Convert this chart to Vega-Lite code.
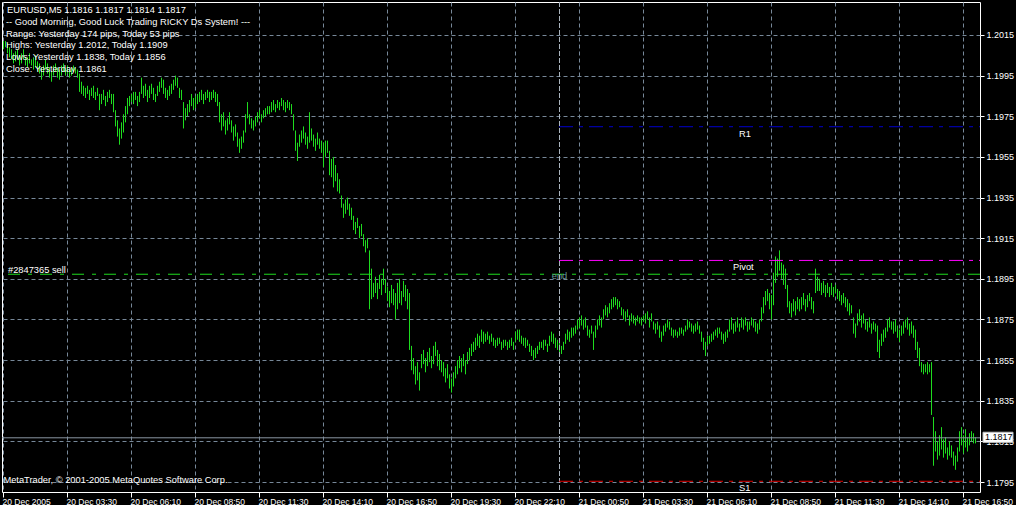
{
"$schema":"https://vega.github.io/schema/vega-lite/v6.json",
"width":978,"height":490,"autosize":"none",
"padding":{"left":2,"top":2,"right":36,"bottom":13},
"background":"black",
"config":{"view":{"stroke":"white","strokeWidth":1},"text":{"font":"Liberation Sans"}},
"datasets":{"bars":[
{"i":0,"l":1.2008,"h":1.2012},{"i":1,"l":1.2009,"h":1.2012},{"i":2,"l":1.2006,"h":1.2011},{"i":3,"l":1.2004,"h":1.2009},{"i":4,"l":1.2003,"h":1.2008},{"i":5,"l":1.2001,"h":1.2006},{"i":6,"l":1.2002,"h":1.2007},{"i":7,"l":1.2003,"h":1.2008},{"i":8,"l":1.2000,"h":1.2005},{"i":9,"l":1.2001,"h":1.2006},
{"i":10,"l":1.2003,"h":1.2008},{"i":11,"l":1.2000,"h":1.2004},{"i":12,"l":1.1999,"h":1.2004},{"i":13,"l":1.2001,"h":1.2006},{"i":14,"l":1.2000,"h":1.2003},{"i":15,"l":1.1998,"h":1.2004},{"i":16,"l":1.1999,"h":1.2005},{"i":17,"l":1.1997,"h":1.2002},{"i":18,"l":1.1996,"h":1.2001},{"i":19,"l":1.1993,"h":1.1999},
{"i":20,"l":1.1995,"h":1.2000},{"i":21,"l":1.1998,"h":1.2003},{"i":22,"l":1.1996,"h":1.2001},{"i":23,"l":1.1994,"h":1.1999},{"i":24,"l":1.1992,"h":1.1997},{"i":25,"l":1.1995,"h":1.2000},{"i":26,"l":1.1997,"h":1.2001},{"i":27,"l":1.1994,"h":1.1999},{"i":28,"l":1.1993,"h":1.1998},{"i":29,"l":1.1995,"h":1.2000},
{"i":30,"l":1.1997,"h":1.2001},{"i":31,"l":1.1995,"h":1.1999},{"i":32,"l":1.1996,"h":1.2000},{"i":33,"l":1.1994,"h":1.1998},{"i":34,"l":1.1995,"h":1.1999},{"i":35,"l":1.1997,"h":1.2000},{"i":36,"l":1.1996,"h":1.1999},{"i":37,"l":1.1994,"h":1.1998},{"i":38,"l":1.1987,"h":1.1996},{"i":39,"l":1.1986,"h":1.1992},
{"i":40,"l":1.1985,"h":1.1990},{"i":41,"l":1.1984,"h":1.1989},{"i":42,"l":1.1986,"h":1.1990},{"i":43,"l":1.1983,"h":1.1988},{"i":44,"l":1.1985,"h":1.1989},{"i":45,"l":1.1984,"h":1.1990},{"i":46,"l":1.1983,"h":1.1987},{"i":47,"l":1.1985,"h":1.1989},{"i":48,"l":1.1978,"h":1.1986},{"i":49,"l":1.1981,"h":1.1986},
{"i":50,"l":1.1983,"h":1.1988},{"i":51,"l":1.1980,"h":1.1985},{"i":52,"l":1.1982,"h":1.1987},{"i":53,"l":1.1984,"h":1.1988},{"i":54,"l":1.1981,"h":1.1986},{"i":55,"l":1.1977,"h":1.1986},{"i":56,"l":1.1970,"h":1.1978},{"i":57,"l":1.1965,"h":1.1973},{"i":58,"l":1.1961,"h":1.1969},{"i":59,"l":1.1964,"h":1.1972},
{"i":60,"l":1.1967,"h":1.1976},{"i":61,"l":1.1972,"h":1.1980},{"i":62,"l":1.1976,"h":1.1984},{"i":63,"l":1.1980,"h":1.1985},{"i":64,"l":1.1982,"h":1.1986},{"i":65,"l":1.1981,"h":1.1987},{"i":66,"l":1.1983,"h":1.1987},{"i":67,"l":1.1980,"h":1.1985},{"i":68,"l":1.1982,"h":1.1987},{"i":69,"l":1.1986,"h":1.1994},
{"i":70,"l":1.1984,"h":1.1990},{"i":71,"l":1.1985,"h":1.1991},{"i":72,"l":1.1982,"h":1.1988},{"i":73,"l":1.1984,"h":1.1990},{"i":74,"l":1.1986,"h":1.1991},{"i":75,"l":1.1983,"h":1.1989},{"i":76,"l":1.1982,"h":1.1986},{"i":77,"l":1.1985,"h":1.1990},{"i":78,"l":1.1987,"h":1.1992},{"i":79,"l":1.1989,"h":1.1994},
{"i":80,"l":1.1986,"h":1.1993},{"i":81,"l":1.1984,"h":1.1989},{"i":82,"l":1.1983,"h":1.1988},{"i":83,"l":1.1985,"h":1.1990},{"i":84,"l":1.1986,"h":1.1991},{"i":85,"l":1.1988,"h":1.1993},{"i":86,"l":1.1990,"h":1.1995},{"i":87,"l":1.1989,"h":1.1994},{"i":88,"l":1.1984,"h":1.1989},{"i":89,"l":1.1983,"h":1.1988},
{"i":90,"l":1.1969,"h":1.1982},{"i":91,"l":1.1973,"h":1.1979},{"i":92,"l":1.1975,"h":1.1981},{"i":93,"l":1.1977,"h":1.1983},{"i":94,"l":1.1980,"h":1.1986},{"i":95,"l":1.1978,"h":1.1984},{"i":96,"l":1.1979,"h":1.1985},{"i":97,"l":1.1981,"h":1.1986},{"i":98,"l":1.1982,"h":1.1987},{"i":99,"l":1.1983,"h":1.1988},
{"i":100,"l":1.1981,"h":1.1986},{"i":101,"l":1.1983,"h":1.1987},{"i":102,"l":1.1984,"h":1.1988},{"i":103,"l":1.1982,"h":1.1987},{"i":104,"l":1.1983,"h":1.1987},{"i":105,"l":1.1984,"h":1.1988},{"i":106,"l":1.1982,"h":1.1987},{"i":107,"l":1.1980,"h":1.1986},{"i":108,"l":1.1972,"h":1.1982},{"i":109,"l":1.1968,"h":1.1976},
{"i":110,"l":1.1970,"h":1.1977},{"i":111,"l":1.1966,"h":1.1973},{"i":112,"l":1.1968,"h":1.1974},{"i":113,"l":1.1971,"h":1.1977},{"i":114,"l":1.1967,"h":1.1973},{"i":115,"l":1.1963,"h":1.1970},{"i":116,"l":1.1965,"h":1.1971},{"i":117,"l":1.1960,"h":1.1967},{"i":118,"l":1.1957,"h":1.1964},{"i":119,"l":1.1959,"h":1.1965},
{"i":120,"l":1.1962,"h":1.1968},{"i":121,"l":1.1967,"h":1.1976},{"i":122,"l":1.1974,"h":1.1982},{"i":123,"l":1.1971,"h":1.1976},{"i":124,"l":1.1969,"h":1.1974},{"i":125,"l":1.1968,"h":1.1973},{"i":126,"l":1.1970,"h":1.1975},{"i":127,"l":1.1972,"h":1.1977},{"i":128,"l":1.1974,"h":1.1978},{"i":129,"l":1.1972,"h":1.1976},
{"i":130,"l":1.1974,"h":1.1978},{"i":131,"l":1.1975,"h":1.1979},{"i":132,"l":1.1976,"h":1.1980},{"i":133,"l":1.1976,"h":1.1980},{"i":134,"l":1.1977,"h":1.1982},{"i":135,"l":1.1978,"h":1.1983},{"i":136,"l":1.1977,"h":1.1981},{"i":137,"l":1.1979,"h":1.1983},{"i":138,"l":1.1978,"h":1.1982},{"i":139,"l":1.1980,"h":1.1984},
{"i":140,"l":1.1978,"h":1.1983},{"i":141,"l":1.1977,"h":1.1982},{"i":142,"l":1.1979,"h":1.1983},{"i":143,"l":1.1978,"h":1.1982},{"i":144,"l":1.1976,"h":1.1981},{"i":145,"l":1.1968,"h":1.1976},{"i":146,"l":1.1958,"h":1.1968},{"i":147,"l":1.1953,"h":1.1962},{"i":148,"l":1.1960,"h":1.1966},{"i":149,"l":1.1962,"h":1.1968},
{"i":150,"l":1.1964,"h":1.1970},{"i":151,"l":1.1961,"h":1.1967},{"i":152,"l":1.1959,"h":1.1965},{"i":153,"l":1.1962,"h":1.1977},{"i":154,"l":1.1963,"h":1.1969},{"i":155,"l":1.1960,"h":1.1966},{"i":156,"l":1.1958,"h":1.1964},{"i":157,"l":1.1961,"h":1.1967},{"i":158,"l":1.1959,"h":1.1964},{"i":159,"l":1.1957,"h":1.1963},
{"i":160,"l":1.1950,"h":1.1962},{"i":161,"l":1.1955,"h":1.1963},{"i":162,"l":1.1957,"h":1.1963},{"i":163,"l":1.1946,"h":1.1958},{"i":164,"l":1.1945,"h":1.1954},{"i":165,"l":1.1940,"h":1.1955},{"i":166,"l":1.1943,"h":1.1951},{"i":167,"l":1.1938,"h":1.1947},{"i":168,"l":1.1937,"h":1.1944},{"i":169,"l":1.1930,"h":1.1936},
{"i":170,"l":1.1925,"h":1.1932},{"i":171,"l":1.1927,"h":1.1934},{"i":172,"l":1.1929,"h":1.1935},{"i":173,"l":1.1926,"h":1.1932},{"i":174,"l":1.1924,"h":1.1930},{"i":175,"l":1.1919,"h":1.1926},{"i":176,"l":1.1917,"h":1.1923},{"i":177,"l":1.1920,"h":1.1925},{"i":178,"l":1.1915,"h":1.1921},{"i":179,"l":1.1916,"h":1.1922},
{"i":180,"l":1.1911,"h":1.1917},{"i":181,"l":1.1908,"h":1.1914},{"i":182,"l":1.1910,"h":1.1915},{"i":183,"l":1.1880,"h":1.1909},{"i":184,"l":1.1885,"h":1.1900},{"i":185,"l":1.1886,"h":1.1893},{"i":186,"l":1.1888,"h":1.1896},{"i":187,"l":1.1885,"h":1.1893},{"i":188,"l":1.1890,"h":1.1897},{"i":189,"l":1.1887,"h":1.1895},
{"i":190,"l":1.1892,"h":1.1900},{"i":191,"l":1.1888,"h":1.1895},{"i":192,"l":1.1884,"h":1.1891},{"i":193,"l":1.1881,"h":1.1889},{"i":194,"l":1.1883,"h":1.1892},{"i":195,"l":1.1882,"h":1.1890},{"i":196,"l":1.1875,"h":1.1888},{"i":197,"l":1.1880,"h":1.1893},{"i":198,"l":1.1883,"h":1.1895},{"i":199,"l":1.1882,"h":1.1889},
{"i":200,"l":1.1886,"h":1.1894},{"i":201,"l":1.1884,"h":1.1892},{"i":202,"l":1.1880,"h":1.1890},{"i":203,"l":1.1860,"h":1.1888},{"i":204,"l":1.1850,"h":1.1862},{"i":205,"l":1.1848,"h":1.1856},{"i":206,"l":1.1843,"h":1.1852},{"i":207,"l":1.1845,"h":1.1854},{"i":208,"l":1.1840,"h":1.1849},{"i":209,"l":1.1851,"h":1.1858},
{"i":210,"l":1.1853,"h":1.1860},{"i":211,"l":1.1849,"h":1.1856},{"i":212,"l":1.1852,"h":1.1859},{"i":213,"l":1.1854,"h":1.1861},{"i":214,"l":1.1851,"h":1.1857},{"i":215,"l":1.1853,"h":1.1862},{"i":216,"l":1.1857,"h":1.1864},{"i":217,"l":1.1852,"h":1.1860},{"i":218,"l":1.1850,"h":1.1858},{"i":219,"l":1.1849,"h":1.1855},
{"i":220,"l":1.1847,"h":1.1854},{"i":221,"l":1.1844,"h":1.1851},{"i":222,"l":1.1846,"h":1.1853},{"i":223,"l":1.1841,"h":1.1848},{"i":224,"l":1.1839,"h":1.1846},{"i":225,"l":1.1842,"h":1.1849},{"i":226,"l":1.1846,"h":1.1852},{"i":227,"l":1.1848,"h":1.1855},{"i":228,"l":1.1851,"h":1.1857},{"i":229,"l":1.1849,"h":1.1856},
{"i":230,"l":1.1852,"h":1.1858},{"i":231,"l":1.1848,"h":1.1855},{"i":232,"l":1.1853,"h":1.1859},{"i":233,"l":1.1855,"h":1.1861},{"i":234,"l":1.1857,"h":1.1863},{"i":235,"l":1.1859,"h":1.1864},{"i":236,"l":1.1860,"h":1.1866},{"i":237,"l":1.1862,"h":1.1868},{"i":238,"l":1.1861,"h":1.1867},{"i":239,"l":1.1864,"h":1.1870},
{"i":240,"l":1.1863,"h":1.1869},{"i":241,"l":1.1864,"h":1.1868},{"i":242,"l":1.1865,"h":1.1869},{"i":243,"l":1.1863,"h":1.1867},{"i":244,"l":1.1864,"h":1.1868},{"i":245,"l":1.1862,"h":1.1866},{"i":246,"l":1.1861,"h":1.1865},{"i":247,"l":1.1862,"h":1.1866},{"i":248,"l":1.1863,"h":1.1866},{"i":249,"l":1.1860,"h":1.1864},
{"i":250,"l":1.1861,"h":1.1865},{"i":251,"l":1.1862,"h":1.1865},{"i":252,"l":1.1860,"h":1.1864},{"i":253,"l":1.1861,"h":1.1865},{"i":254,"l":1.1862,"h":1.1866},{"i":255,"l":1.1860,"h":1.1864},{"i":256,"l":1.1864,"h":1.1869},{"i":257,"l":1.1865,"h":1.1870},{"i":258,"l":1.1864,"h":1.1870},{"i":259,"l":1.1863,"h":1.1867},
{"i":260,"l":1.1862,"h":1.1866},{"i":261,"l":1.1861,"h":1.1866},{"i":262,"l":1.1862,"h":1.1865},{"i":263,"l":1.1859,"h":1.1863},{"i":264,"l":1.1857,"h":1.1862},{"i":265,"l":1.1855,"h":1.1860},{"i":266,"l":1.1856,"h":1.1861},{"i":267,"l":1.1858,"h":1.1862},{"i":268,"l":1.1860,"h":1.1864},{"i":269,"l":1.1861,"h":1.1864},
{"i":270,"l":1.1860,"h":1.1865},{"i":271,"l":1.1862,"h":1.1865},{"i":272,"l":1.1859,"h":1.1863},{"i":273,"l":1.1862,"h":1.1867},{"i":274,"l":1.1864,"h":1.1869},{"i":275,"l":1.1863,"h":1.1868},{"i":276,"l":1.1861,"h":1.1866},{"i":277,"l":1.1860,"h":1.1865},{"i":278,"l":1.1859,"h":1.1864},{"i":279,"l":1.1858,"h":1.1862},
{"i":280,"l":1.1860,"h":1.1864},{"i":281,"l":1.1863,"h":1.1868},{"i":282,"l":1.1865,"h":1.1870},{"i":283,"l":1.1864,"h":1.1869},{"i":284,"l":1.1866,"h":1.1871},{"i":285,"l":1.1867,"h":1.1871},{"i":286,"l":1.1868,"h":1.1872},{"i":287,"l":1.1870,"h":1.1875},{"i":288,"l":1.1871,"h":1.1876},{"i":289,"l":1.1872,"h":1.1877},
{"i":290,"l":1.1870,"h":1.1875},{"i":291,"l":1.1871,"h":1.1876},{"i":292,"l":1.1867,"h":1.1872},{"i":293,"l":1.1866,"h":1.1870},{"i":294,"l":1.1868,"h":1.1872},{"i":295,"l":1.1860,"h":1.1869},{"i":296,"l":1.1866,"h":1.1872},{"i":297,"l":1.1870,"h":1.1875},{"i":298,"l":1.1872,"h":1.1877},{"i":299,"l":1.1871,"h":1.1876},
{"i":300,"l":1.1875,"h":1.1880},{"i":301,"l":1.1877,"h":1.1882},{"i":302,"l":1.1876,"h":1.1881},{"i":303,"l":1.1878,"h":1.1883},{"i":304,"l":1.1880,"h":1.1885},{"i":305,"l":1.1881,"h":1.1886},{"i":306,"l":1.1882,"h":1.1886},{"i":307,"l":1.1880,"h":1.1885},{"i":308,"l":1.1881,"h":1.1884},{"i":309,"l":1.1877,"h":1.1881},
{"i":310,"l":1.1875,"h":1.1880},{"i":311,"l":1.1874,"h":1.1879},{"i":312,"l":1.1876,"h":1.1880},{"i":313,"l":1.1872,"h":1.1877},{"i":314,"l":1.1874,"h":1.1878},{"i":315,"l":1.1873,"h":1.1877},{"i":316,"l":1.1872,"h":1.1876},{"i":317,"l":1.1874,"h":1.1877},{"i":318,"l":1.1873,"h":1.1876},{"i":319,"l":1.1872,"h":1.1876},
{"i":320,"l":1.1874,"h":1.1877},{"i":321,"l":1.1873,"h":1.1878},{"i":322,"l":1.1875,"h":1.1879},{"i":323,"l":1.1871,"h":1.1876},{"i":324,"l":1.1874,"h":1.1878},{"i":325,"l":1.1870,"h":1.1874},{"i":326,"l":1.1868,"h":1.1873},{"i":327,"l":1.1870,"h":1.1874},{"i":328,"l":1.1866,"h":1.1872},{"i":329,"l":1.1864,"h":1.1869},
{"i":330,"l":1.1867,"h":1.1872},{"i":331,"l":1.1869,"h":1.1873},{"i":332,"l":1.1871,"h":1.1875},{"i":333,"l":1.1870,"h":1.1874},{"i":334,"l":1.1867,"h":1.1871},{"i":335,"l":1.1866,"h":1.1870},{"i":336,"l":1.1867,"h":1.1870},{"i":337,"l":1.1866,"h":1.1869},{"i":338,"l":1.1867,"h":1.1871},{"i":339,"l":1.1868,"h":1.1871},
{"i":340,"l":1.1867,"h":1.1870},{"i":341,"l":1.1869,"h":1.1872},{"i":342,"l":1.1870,"h":1.1875},{"i":343,"l":1.1871,"h":1.1874},{"i":344,"l":1.1869,"h":1.1873},{"i":345,"l":1.1868,"h":1.1872},{"i":346,"l":1.1869,"h":1.1873},{"i":347,"l":1.1870,"h":1.1874},{"i":348,"l":1.1868,"h":1.1872},{"i":349,"l":1.1864,"h":1.1869},
{"i":350,"l":1.1860,"h":1.1866},{"i":351,"l":1.1857,"h":1.1864},{"i":352,"l":1.1862,"h":1.1867},{"i":353,"l":1.1863,"h":1.1867},{"i":354,"l":1.1864,"h":1.1868},{"i":355,"l":1.1865,"h":1.1869},{"i":356,"l":1.1867,"h":1.1870},{"i":357,"l":1.1866,"h":1.1871},{"i":358,"l":1.1868,"h":1.1871},{"i":359,"l":1.1865,"h":1.1869},
{"i":360,"l":1.1863,"h":1.1868},{"i":361,"l":1.1864,"h":1.1869},{"i":362,"l":1.1866,"h":1.1870},{"i":363,"l":1.1869,"h":1.1875},{"i":364,"l":1.1870,"h":1.1876},{"i":365,"l":1.1868,"h":1.1873},{"i":366,"l":1.1869,"h":1.1874},{"i":367,"l":1.1871,"h":1.1876},{"i":368,"l":1.1869,"h":1.1873},{"i":369,"l":1.1871,"h":1.1876},
{"i":370,"l":1.1870,"h":1.1875},{"i":371,"l":1.1872,"h":1.1876},{"i":372,"l":1.1869,"h":1.1874},{"i":373,"l":1.1870,"h":1.1874},{"i":374,"l":1.1872,"h":1.1876},{"i":375,"l":1.1871,"h":1.1875},{"i":376,"l":1.1869,"h":1.1874},{"i":377,"l":1.1868,"h":1.1873},{"i":378,"l":1.1870,"h":1.1875},{"i":379,"l":1.1874,"h":1.1881},
{"i":380,"l":1.1878,"h":1.1886},{"i":381,"l":1.1882,"h":1.1889},{"i":382,"l":1.1884,"h":1.1890},{"i":383,"l":1.1880,"h":1.1888},{"i":384,"l":1.1875,"h":1.1887},{"i":385,"l":1.1882,"h":1.1898},{"i":386,"l":1.1893,"h":1.1906},{"i":387,"l":1.1896,"h":1.1905},{"i":388,"l":1.1899,"h":1.1909},{"i":389,"l":1.1895,"h":1.1903},
{"i":390,"l":1.1892,"h":1.1902},{"i":391,"l":1.1890,"h":1.1900},{"i":392,"l":1.1881,"h":1.1892},{"i":393,"l":1.1878,"h":1.1884},{"i":394,"l":1.1876,"h":1.1883},{"i":395,"l":1.1879,"h":1.1885},{"i":396,"l":1.1877,"h":1.1884},{"i":397,"l":1.1880,"h":1.1886},{"i":398,"l":1.1879,"h":1.1885},{"i":399,"l":1.1880,"h":1.1886},
{"i":400,"l":1.1882,"h":1.1888},{"i":401,"l":1.1879,"h":1.1885},{"i":402,"l":1.1881,"h":1.1887},{"i":403,"l":1.1884,"h":1.1888},{"i":404,"l":1.1880,"h":1.1886},{"i":405,"l":1.1878,"h":1.1884},{"i":406,"l":1.1888,"h":1.1900},{"i":407,"l":1.1889,"h":1.1896},{"i":408,"l":1.1889,"h":1.1895},{"i":409,"l":1.1887,"h":1.1893},
{"i":410,"l":1.1888,"h":1.1894},{"i":411,"l":1.1886,"h":1.1892},{"i":412,"l":1.1888,"h":1.1893},{"i":413,"l":1.1886,"h":1.1891},{"i":414,"l":1.1887,"h":1.1893},{"i":415,"l":1.1886,"h":1.1891},{"i":416,"l":1.1888,"h":1.1892},{"i":417,"l":1.1885,"h":1.1890},{"i":418,"l":1.1884,"h":1.1889},{"i":419,"l":1.1882,"h":1.1887},
{"i":420,"l":1.1883,"h":1.1888},{"i":421,"l":1.1881,"h":1.1886},{"i":422,"l":1.1879,"h":1.1885},{"i":423,"l":1.1877,"h":1.1883},{"i":424,"l":1.1878,"h":1.1882},{"i":425,"l":1.1868,"h":1.1876},{"i":426,"l":1.1866,"h":1.1873},{"i":427,"l":1.1872,"h":1.1878},{"i":428,"l":1.1874,"h":1.1880},{"i":429,"l":1.1871,"h":1.1877},
{"i":430,"l":1.1873,"h":1.1878},{"i":431,"l":1.1870,"h":1.1875},{"i":432,"l":1.1869,"h":1.1874},{"i":433,"l":1.1871,"h":1.1876},{"i":434,"l":1.1868,"h":1.1873},{"i":435,"l":1.1870,"h":1.1874},{"i":436,"l":1.1869,"h":1.1873},{"i":437,"l":1.1859,"h":1.1872},{"i":438,"l":1.1856,"h":1.1865},{"i":439,"l":1.1862,"h":1.1868},
{"i":440,"l":1.1864,"h":1.1870},{"i":441,"l":1.1866,"h":1.1871},{"i":442,"l":1.1869,"h":1.1875},{"i":443,"l":1.1871,"h":1.1876},{"i":444,"l":1.1870,"h":1.1874},{"i":445,"l":1.1868,"h":1.1874},{"i":446,"l":1.1869,"h":1.1875},{"i":447,"l":1.1866,"h":1.1872},{"i":448,"l":1.1864,"h":1.1870},{"i":449,"l":1.1867,"h":1.1872},
{"i":450,"l":1.1868,"h":1.1874},{"i":451,"l":1.1871,"h":1.1875},{"i":452,"l":1.1870,"h":1.1876},{"i":453,"l":1.1867,"h":1.1873},{"i":454,"l":1.1868,"h":1.1874},{"i":455,"l":1.1866,"h":1.1872},{"i":456,"l":1.1860,"h":1.1870},{"i":457,"l":1.1856,"h":1.1864},{"i":458,"l":1.1852,"h":1.1861},{"i":459,"l":1.1849,"h":1.1854},
{"i":460,"l":1.1848,"h":1.1853},{"i":461,"l":1.1849,"h":1.1853},{"i":462,"l":1.1848,"h":1.1854},{"i":463,"l":1.1849,"h":1.1853},{"i":464,"l":1.1828,"h":1.1854},{"i":465,"l":1.1803,"h":1.1827},{"i":466,"l":1.1810,"h":1.1820},{"i":467,"l":1.1806,"h":1.1815},{"i":468,"l":1.1808,"h":1.1818},{"i":469,"l":1.1811,"h":1.1822},
{"i":470,"l":1.1807,"h":1.1816},{"i":471,"l":1.1809,"h":1.1817},{"i":472,"l":1.1806,"h":1.1812},{"i":473,"l":1.1808,"h":1.1815},{"i":474,"l":1.1807,"h":1.1813},{"i":475,"l":1.1803,"h":1.1810},{"i":476,"l":1.1801,"h":1.1808},{"i":477,"l":1.1805,"h":1.1812},{"i":478,"l":1.1810,"h":1.1820},{"i":479,"l":1.1813,"h":1.1822},
{"i":480,"l":1.1809,"h":1.1818},{"i":481,"l":1.1812,"h":1.1821},{"i":482,"l":1.1810,"h":1.1817},{"i":483,"l":1.1813,"h":1.1819},{"i":484,"l":1.1815,"h":1.1820},{"i":485,"l":1.1814,"h":1.1819},{"i":486,"l":1.1814,"h":1.1817}
]},
"layer":[
{"data":{"name":"bars"},
 "mark":{"type":"rule","color":"#1edc1e","strokeWidth":1,"xOffset":0.5},
 "encoding":{
  "x":{"field":"i","type":"quantitative","title":null,
   "scale":{"domain":[-0.5,488.5],"nice":false,"zero":false},
   "axis":{"orient":"bottom","title":null,
    "values":[0,16,32,48,64,80,96,112,128,144,160,176,192,208,224,240,256,272,288,304,320,336,352,368,384,400,416,432,448,464,480],
    "grid":true,"gridColor":"#778899","gridDash":[4,3],"gridWidth":1,
    "domain":false,"ticks":true,"tickSize":5,"tickWidth":1,
    "tickColor":{"condition":{"test":"datum.value % 32 !== 0","value":"transparent"},"value":"white"},
    "labelExpr":"datum.value % 32 === 0 ? ['20 Dec 2005','20 Dec 03:30','20 Dec 06:10','20 Dec 08:50','20 Dec 11:30','20 Dec 14:10','20 Dec 16:50','20 Dec 19:30','20 Dec 22:10','21 Dec 00:50','21 Dec 03:30','21 Dec 06:10','21 Dec 08:50','21 Dec 11:30','21 Dec 14:10','21 Dec 16:50'][datum.value/32] : ''",
    "labelAlign":"left","labelBaseline":"top","labelPadding":0,"labelOffset":-1,
    "labelColor":"white","labelFont":"Liberation Sans","labelFontSize":8.5,
    "labelOverlap":false,"labelBound":false,"labelFlush":false}},
  "y":{"field":"l","type":"quantitative","title":null,
   "scale":{"domain":[1.17900783,1.20312416],"nice":false,"zero":false},
   "axis":{"orient":"right","title":null,
    "values":[1.1795,1.1815,1.1835,1.1855,1.1875,1.1895,1.1915,1.1935,1.1955,1.1975,1.1995,1.2015],
    "format":".4f","grid":true,"gridColor":"#778899","gridDash":[4,3],"gridWidth":1,
    "domain":false,"ticks":true,"tickSize":4,"tickColor":"white",
    "labelColor":"white","labelFont":"Liberation Sans","labelFontSize":9,"labelPadding":2,
    "labelOverlap":false,"labelBound":false,"labelFlush":false}},
  "y2":{"field":"h"}}},
{"data":{"values":[{"a":278}]},
 "mark":{"type":"rule","color":"#aab4be","strokeDash":[5,2],"strokeWidth":1,"xOffset":0.5},
 "encoding":{"x":{"field":"a","type":"quantitative","title":null}}},
{"data":{"values":[{"p":1.18975}]},
 "mark":{"type":"rule","color":"#1edc1e","strokeDash":[12,8,4,8],"strokeWidth":1,"yOffset":0.5},
 "encoding":{"y":{"field":"p","type":"quantitative","title":null}}},
{"data":{"values":[{"p":1.1817}]},
 "mark":{"type":"rule","color":"#8a96a3","strokeWidth":1,"yOffset":0.5},
 "encoding":{"y":{"field":"p","type":"quantitative","title":null}}},
{"data":{"values":[{"a":278,"b":488.5,"p":1.19701,"k":"R1"},{"a":278,"b":488.5,"p":1.19043,"k":"Pivot"},{"a":278,"b":488.5,"p":1.17956,"k":"S1"}]},
 "mark":{"type":"rule","strokeDash":[14,6,4,6],"strokeWidth":1,"yOffset":0.5},
 "encoding":{
  "x":{"field":"a","type":"quantitative","title":null},"x2":{"field":"b"},
  "y":{"field":"p","type":"quantitative","title":null},
  "color":{"field":"k","type":"nominal","scale":{"domain":["R1","Pivot","S1"],"range":["#0000cd","#ff00ff","#e00000"]},"legend":null}}},
{"data":{"values":[
  {"t":"EURUSD,M5  1.1816 1.1817 1.1814 1.1817","x":2,"y":1.202568},
  {"t":"-- Good Morning, Good Luck Trading RICKY Ds System! ---","x":1.5,"y":1.201992},
  {"t":"Range: Yesterday 174 pips, Today 53 pips","x":1.5,"y":1.201416},
  {"t":"Highs: Yesterday 1.2012, Today 1.1909","x":1.5,"y":1.200845},
  {"t":"Lows: Yesterday 1.1838, Today 1.1856","x":1.5,"y":1.20027},
  {"t":"Close: Yesterday 1.1861","x":1.5,"y":1.199694},
  {"t":"MetaTrader, © 2001-2005 MetaQuotes Software Corp.","x":0.2,"y":1.179436},
  {"t":"#2847365 sell","x":2.5,"y":1.18981},
  {"t":"Pivot","x":365,"y":1.18993},
  {"t":"R1","x":368,"y":1.19649},
  {"t":"S1","x":368,"y":1.17906}]},
 "mark":{"type":"text","align":"left","baseline":"alphabetic","color":"white","font":"Liberation Sans","fontSize":9.3},
 "encoding":{
  "x":{"field":"x","type":"quantitative","title":null},
  "y":{"field":"y","type":"quantitative","title":null},
  "text":{"field":"t"}}},
{"data":{"values":[{"t":"end","x":278.25,"y":1.18949}]},
 "mark":{"type":"text","align":"center","baseline":"alphabetic","color":"#6b9a9a","font":"Liberation Sans","fontSize":9.3},
 "encoding":{
  "x":{"field":"x","type":"quantitative","title":null},
  "y":{"field":"y","type":"quantitative","title":null},
  "text":{"field":"t"}}},
{"data":{"values":[{"a":490,"b":505,"p1":1.18195,"p2":1.18145}]},
 "mark":{"type":"rect","fill":"white","stroke":"#c0c0c0","strokeWidth":1},
 "encoding":{
  "x":{"field":"a","type":"quantitative","title":null},"x2":{"field":"b"},
  "y":{"field":"p1","type":"quantitative","title":null},"y2":{"field":"p2"}}},
{"data":{"values":[{"t":"1.1817","x":491,"y":1.1817}]},
 "mark":{"type":"text","align":"left","baseline":"middle","color":"black","font":"Liberation Sans","fontSize":9},
 "encoding":{
  "x":{"field":"x","type":"quantitative","title":null},
  "y":{"field":"y","type":"quantitative","title":null},
  "text":{"field":"t"}}}
]
}
